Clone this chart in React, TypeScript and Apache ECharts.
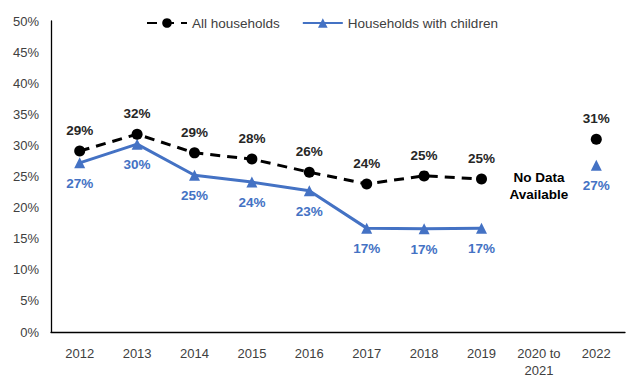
import React, { useEffect, useRef } from "react";
import * as echarts from "echarts";

const categories = ["2012", "2013", "2014", "2015", "2016", "2017", "2018", "2019", "2020 to\n2021", "2022"];
const allHouseholds = [29.1, 31.8, 28.8, 27.8, 25.7, 23.8, 25.1, 24.6, null, 31.0];
const allLabels = ["29%", "32%", "29%", "28%", "26%", "24%", "25%", "25%", "", "31%"];
const withChildren = [27.2, 30.2, 25.2, 24.1, 22.7, 16.7, 16.6, 16.7, null, 26.8];
const childLabels = ["27%", "30%", "25%", "24%", "23%", "17%", "17%", "17%", "", "27%"];
const noDataCategory = "2020 to\n2021";
const noDataValue = 23.5;
const yTicks = { min: 0, max: 50, interval: 5 };

export default function App() {
  const ref = useRef<HTMLDivElement>(null);
  useEffect(() => {
    if (!ref.current) return;
    const chart = echarts.init(ref.current, undefined, { renderer: "svg" });
    const font = "'Liberation Sans', Arial, sans-serif";
    chart.setOption({
      animation: false,
      textStyle: { fontFamily: font },
      legend: {
        top: 11,
        left: 141,
        itemGap: 22,
        itemWidth: 40,
        itemHeight: 12,
        textStyle: { fontSize: 13.5, color: "#404040", fontFamily: font },
        data: [
          { name: "All households" },
          { name: "Households with children" },
        ],
      },
      grid: { left: 51, right: 11, top: 21, bottom: 48 },
      xAxis: {
        type: "category",
        data: categories,
        boundaryGap: true,
        axisLine: { lineStyle: { color: "#000", width: 1.3 } },
        axisTick: { show: false },
        axisLabel: { color: "#404040", fontSize: 13, margin: 13, lineHeight: 17, fontFamily: font },
      },
      yAxis: {
        type: "value",
        min: yTicks.min,
        max: yTicks.max,
        interval: yTicks.interval,
        axisLine: { show: true, lineStyle: { color: "#000", width: 1.3 } },
        axisTick: { show: false },
        splitLine: { show: false },
        axisLabel: { color: "#404040", fontSize: 13, margin: 12, formatter: "{value}%", fontFamily: font },
      },
      series: [
        {
          name: "Households with children",
          type: "line",
          data: withChildren,
          connectNulls: false,
          symbol: "triangle",
          symbolSize: 11,
          z: 2,
          lineStyle: { color: "#4472C4", width: 3 },
          itemStyle: { color: "#4472C4" },
          label: {
            show: true,
            position: "bottom",
            distance: 8,
            color: "#4472C4",
            fontWeight: "bold",
            fontSize: 13.5,
            fontFamily: font,
            formatter: (p: any) => childLabels[p.dataIndex],
          },
        },
        {
          name: "All households",
          type: "line",
          data: allHouseholds,
          connectNulls: false,
          symbol: "circle",
          symbolSize: 11,
          z: 3,
          lineStyle: { color: "#000", width: 3, type: [10, 7] },
          itemStyle: { color: "#000" },
          label: {
            show: true,
            position: "top",
            distance: 8,
            color: "#262626",
            fontWeight: "bold",
            fontSize: 13.5,
            fontFamily: font,
            formatter: (p: any) => allLabels[p.dataIndex],
          },
          markPoint: {
            symbol: "circle",
            symbolSize: 0,
            data: [{ coord: [noDataCategory, noDataValue], value: 0 }],
            label: {
              show: true,
              position: "inside",
              formatter: "No Data\nAvailable",
              color: "#000",
              fontWeight: "bold",
              fontSize: 13.5,
              lineHeight: 17,
              fontFamily: font,
            },
          },
        },
      ],
    });
    return () => chart.dispose();
  }, []);
  return (
    <div
      ref={ref}
      style={{ position: "absolute", left: 0, top: 0, width: 636, height: 380 }}
    />
  );
}
